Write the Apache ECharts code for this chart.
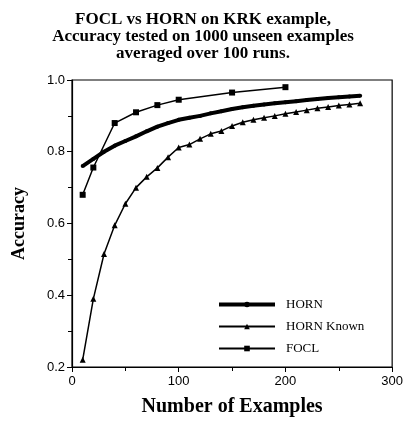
<!DOCTYPE html>
<html>
<head>
<meta charset="utf-8">
<script src="https://cdn.jsdelivr.net/npm/echarts@6/dist/echarts.min.js"></script>
<style>
html,body{margin:0;padding:0;background:#fff;}
#c{width:406px;height:422px;}
</style>
</head>
<body>
<div id="c"></div>
<script>
var titleText = "FOCL vs HORN on KRK example,\nAccuracy tested on 1000 unseen examples\naveraged over 100 runs.";
var xAxisName = "Number of Examples";
var yAxisName = "Accuracy";
var seriesNames = ["HORN", "HORN Known", "FOCL"];

var hornX = [10,20,30,40,50,60,70,80,90,100,110,120,130,140,150,160,170,180,190,200,210,220,230,240,250,260,270];
var hornY = [0.76,0.78,0.80,0.817,0.83,0.843,0.857,0.87,0.88,0.889,0.895,0.90,0.907,0.913,0.919,0.924,0.928,0.932,0.935,0.938,0.941,0.944,0.947,0.95,0.952,0.954,0.956];

var knownX = [10,20,30,40,50,60,70,80,90,100,110,120,130,140,150,160,170,180,190,200,210,220,230,240,250,260,270];
var knownY = [0.22,0.39,0.515,0.595,0.655,0.70,0.73,0.755,0.785,0.812,0.82,0.836,0.85,0.858,0.872,0.882,0.889,0.895,0.90,0.906,0.911,0.916,0.921,0.925,0.929,0.932,0.935];

var foclX = [10,20,40,60,80,100,150,200];
var foclY = [0.68,0.756,0.88,0.91,0.93,0.945,0.965,0.98];

function pairs(xs, ys){ return xs.map(function(x,i){ return [x, ys[i]]; }); }

var serif = "'Liberation Serif', 'DejaVu Serif', serif";
var sans = "'Liberation Sans', Arial, sans-serif";

var chart = echarts.init(document.getElementById('c'), null, {renderer:'canvas'});
chart.setOption({
  animation: false,
  backgroundColor: '#fff',
  title: {
    text: titleText,
    left: 'center',
    top: 6,
    textStyle: {fontFamily: serif, fontWeight: 'bold', fontSize: 17, lineHeight: 17, color: '#000'}
  },
  grid: {left: 72, right: 12, top: 80, bottom: 53, show: true, borderColor: '#000', borderWidth: 1.2, containLabel: false},
  legend: {
    orient: 'vertical',
    left: 212, top: 293,
    itemWidth: 56, itemHeight: 7, itemGap: 9,
    textStyle: {fontFamily: serif, fontSize: 13, color: '#000', padding: [0,0,0,6]},
    data: [
      {name: seriesNames[0], lineStyle: {width: 4, color: '#000'}},
      {name: seriesNames[1]},
      {name: seriesNames[2]}
    ]
  },
  xAxis: {
    type: 'value', min: 0, max: 300, interval: 100,
    name: xAxisName, nameLocation: 'middle', nameGap: 30,
    nameTextStyle: {fontFamily: serif, fontWeight: 'bold', fontSize: 20, color: '#000'},
    axisLine: {show: true, lineStyle: {color: '#000', width: 1.2}},
    axisTick: {show: true, length: 5, lineStyle: {color: '#000'}},
    minorTick: {show: true, splitNumber: 2, length: 4, lineStyle: {color: '#000'}},
    splitLine: {show: false},
    axisLabel: {fontFamily: sans, fontSize: 13, color: '#000', margin: 8}
  },
  yAxis: {
    type: 'value', min: 0.2, max: 1.0, interval: 0.2,
    name: yAxisName, nameLocation: 'middle', nameGap: 44, nameRotate: 90,
    nameTextStyle: {fontFamily: serif, fontWeight: 'bold', fontSize: 18, color: '#000'},
    axisLine: {show: true, lineStyle: {color: '#000', width: 1.2}},
    axisTick: {show: true, length: 5, lineStyle: {color: '#000'}},
    minorTick: {show: true, splitNumber: 2, length: 4, lineStyle: {color: '#000'}},
    splitLine: {show: false},
    axisLabel: {fontFamily: sans, fontSize: 13, color: '#000', margin: 7,
      formatter: function(v){ return v.toFixed(1); }}
  },
  series: [
    {
      name: seriesNames[0], type: 'line', data: pairs(hornX, hornY),
      symbol: 'circle', symbolSize: 4, showSymbol: true,
      lineStyle: {color: '#000', width: 4}, itemStyle: {color: '#000'}, z: 3
    },
    {
      name: seriesNames[1], type: 'line', data: pairs(knownX, knownY),
      symbol: 'triangle', symbolSize: 6, showSymbol: true,
      lineStyle: {color: '#000', width: 1.5}, itemStyle: {color: '#000'}
    },
    {
      name: seriesNames[2], type: 'line', data: pairs(foclX, foclY),
      symbol: 'rect', symbolSize: 6, showSymbol: true,
      lineStyle: {color: '#000', width: 1.5}, itemStyle: {color: '#000'}
    }
  ]
});
</script>
</body>
</html>
